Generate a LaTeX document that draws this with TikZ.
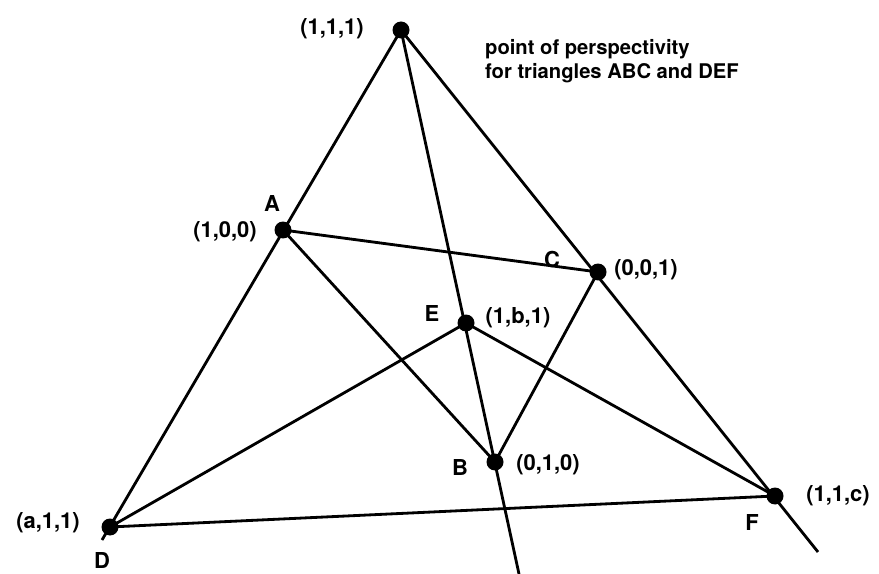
\documentclass[tikz,border=0pt]{standalone}
\usepackage{fontspec}
\setmainfont{TeX Gyre Heros}
\usetikzlibrary{positioning}

\begin{document}
\begin{tikzpicture}[x=0.02cm, y=-0.02cm, line width=1.6pt,
  dot/.style={circle, fill=black, inner sep=0pt, minimum size=3.4mm},
  lbl/.style={font=\fontsize{12.5}{14}\selectfont\bfseries, inner sep=1pt}]
  \useasboundingbox (0,0) rectangle (879,574);
  \node[dot] (p) at (401,30)  {};
  \node[dot] (a) at (283,230) {};
  \node[dot] (c) at (598,272) {};
  \node[dot] (e) at (466,323) {};
  \node[dot] (b) at (495,462) {};
  \node[dot] (f) at (775,496) {};
  \node[dot] (d) at (110,527) {};
  \coordinate (fx) at (818,552);
  \coordinate (bx) at (519,574);
  \coordinate (dx) at (102,540);
  \draw (p.center) -- (dx);
  \draw (p.center) -- (fx);
  \draw (p.center) -- (bx);
  \draw (a.center) -- (c.center) -- (b.center) -- cycle;
  \draw (d.center) -- (e.center) -- (f.center) -- cycle;
  % labels
  \node[lbl] at (332,29)  {(1,1,1)};
  \node[lbl] at (272,203) {A};
  \node[lbl] at (225,232) {(1,0,0)};
  \node[lbl] at (552,259) {C};
  \node[lbl] at (646,270) {(0,0,1)};
  \node[lbl] at (432,313) {E};
  \node[lbl] at (518,318) {(1,b,1)};
  \node[lbl] at (460,467) {B};
  \node[lbl] at (548,465) {(0,1,0)};
  \node[lbl] at (752,522) {F};
  \node[lbl] at (838,496) {(1,1,c)};
  \node[lbl] at (48,523)  {(a,1,1)};
  \node[lbl] at (102,560) {D};
  \node[lbl, anchor=north west, align=left, font=\fontsize{11.5}{14}\selectfont\bfseries] at (482,36)
    {point of perspectivity\\for triangles ABC and DEF};
\end{tikzpicture}
\end{document}
